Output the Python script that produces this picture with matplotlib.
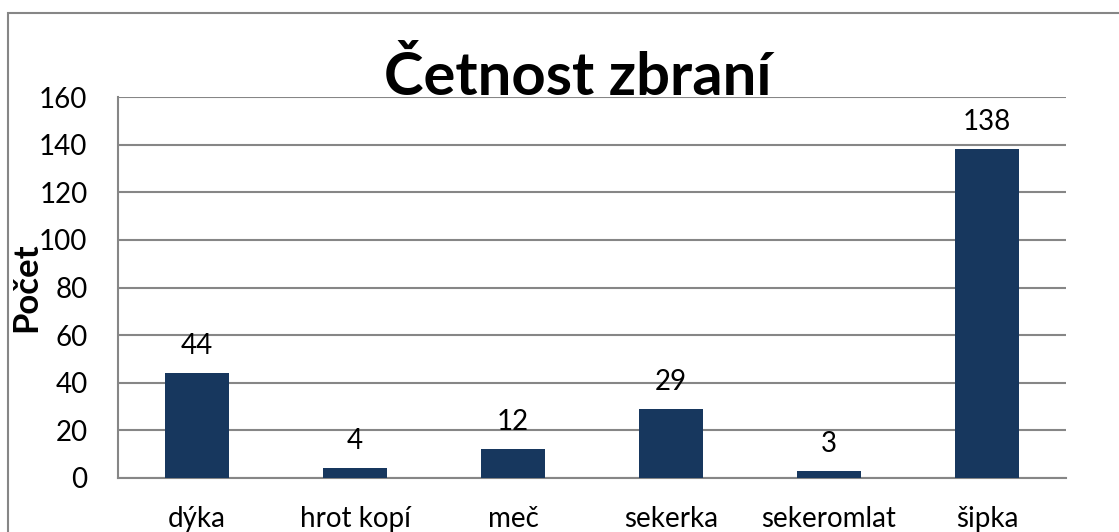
import numpy as np
import matplotlib.pyplot as plt
from matplotlib.patches import Rectangle

categories = ["dýka", "hrot kopí", "meč", "sekerka", "sekeromlat", "šipka"]
counts = [44, 4, 12, 29, 3, 138]

plt.rcParams['font.family'] = ['Lato', 'DejaVu Sans']

fig = plt.figure(figsize=(11.19, 5.32), dpi=100)
W, H = 1119, 532
ax = fig.add_axes([118 / W, 1 - 478 / H, (1066 - 118) / W, (478 - 97) / H])

# outer chart frame
fig.patches.append(Rectangle((8 / W, -0.1), 1.2, 1 - 13 / H + 0.1, transform=fig.transFigure,
                             fill=False, edgecolor='#868686', linewidth=1.5))

x = np.arange(len(categories))
bars = ax.bar(x, counts, width=0.4, color='#17375E', zorder=3)
for xi, v in zip(x, counts):
    ax.text(xi, v + 6, str(v), ha='center', va='bottom', fontsize=20)

ax.set_xlim(-0.5, len(categories) - 0.5)
ax.set_ylim(0, 160)
ax.set_yticks(range(0, 161, 20))
ax.set_xticks(x)
ax.set_xticklabels(categories)
ax.tick_params(axis='both', labelsize=20, length=0)
ax.tick_params(axis='x', pad=20)
ax.tick_params(axis='y', pad=22)
ax.grid(axis='y', color='#868686', linewidth=1.5, zorder=0)
for s in ['top', 'right']:
    ax.spines[s].set_visible(False)
for s in ['left', 'bottom']:
    ax.spines[s].set_color('#868686')
    ax.spines[s].set_linewidth(1.5)

ax.set_ylabel('Počet', fontsize=25, fontweight='bold', labelpad=-2)
fig.text(578 / W, 1 - 95 / H, 'Četnost zbraní', ha='center', va='baseline',
         fontsize=43, fontweight='bold')

fig.savefig('out.png', dpi=100)
